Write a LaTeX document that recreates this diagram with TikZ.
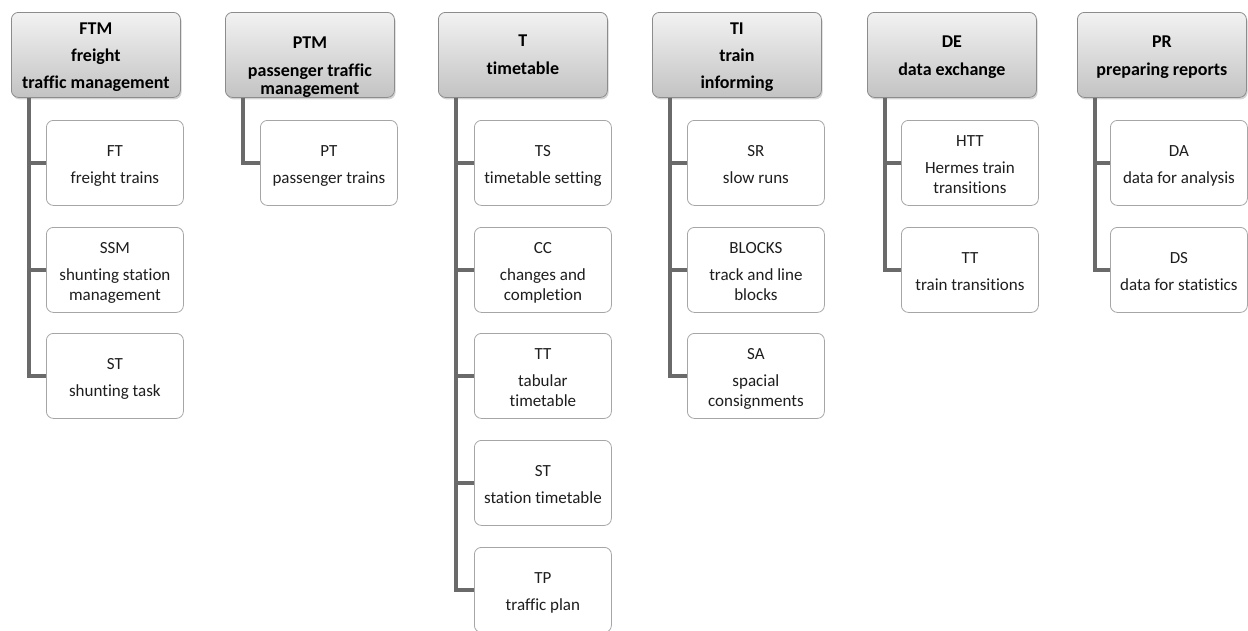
\documentclass[tikz,border=0pt]{standalone}
\usepackage{fontspec}
\setmainfont{Carlito}[Ligatures=NoCommon]
\usetikzlibrary{calc,shadows}
\definecolor{linegray}{HTML}{6A6A6A}
\definecolor{pborder}{HTML}{8C8C8C}
\definecolor{cborder}{HTML}{A6A6A6}
\definecolor{ptop}{HTML}{F2F2F2}
\definecolor{pbot}{HTML}{C3C3C3}
\definecolor{txt}{HTML}{1E1E1E}
% lower the text block visually by #1 while keeping its measured size
\newcommand{\dnbox}[2]{\raisebox{-#1}[\height][\depth]{\begin{tabular}{@{}c@{}}#2\end{tabular}}}
\begin{document}
\begin{tikzpicture}[x=1pt,y=-1pt,
  parent/.style={draw=pborder, line width=0.8pt, rounded corners=7pt,
    top color=ptop, bottom color=pbot, minimum width=169pt, minimum height=85pt,
    anchor=north west, align=center, inner sep=0pt, text=black,
    font=\fontsize{18}{21.5}\selectfont\bfseries,
    drop shadow={shadow xshift=1.2pt, shadow yshift=-2pt, opacity=0.35}},
  ptext/.style={align=center, inner sep=0pt, text=black,
    font=\fontsize{18}{21.5}\selectfont\bfseries},
  childbox/.style={draw=cborder, line width=0.8pt, rounded corners=7pt,
    fill=white, minimum width=137pt, minimum height=85pt,
    anchor=north west, align=center, inner sep=0pt, text=txt,
    font=\fontsize{17}{20.5}\selectfont},
  conn/.style={draw=linegray, line width=4pt}
]
\useasboundingbox (0,0) rectangle (1248,630);

% parents
\node[parent] (FTM) at (11,12) {\dnbox{2.5pt}{FTM\\[5.5pt]freight\\[5.5pt]traffic management}};
\node[parent] (PTM) at (225,12) {};
\node[ptext] (PTMt) at ($(PTM.center)+(0,12.5)$) {PTM\\[6.5pt]passenger traffic\\[-3.5pt]management};
\node[parent] (T) at (438,12) {\dnbox{1pt}{T\\[6.5pt]timetable}};
\node[parent] (TI) at (652,12) {\dnbox{2.5pt}{TI\\[5.5pt]train\\[5.5pt]informing}};
\node[parent] (DE) at (867,12) {\dnbox{2pt}{DE\\[6.5pt]data exchange}};
\node[parent] (PR) at (1077,12) {\dnbox{2pt}{PR\\[6.5pt]preparing reports}};

% FTM children
\node[childbox] (FT) at (46,120) {\dnbox{3pt}{FT\\[6pt]freight trains}};
\node[childbox] (SSM) at (46,227) {\dnbox{3pt}{SSM\\[6pt]shunting station\\management}};
\node[childbox] (STa) at (46,333) {\dnbox{3pt}{ST\\[6pt]shunting task}};
% PTM children
\node[childbox] (PT) at (260,120) {\dnbox{3pt}{PT\\[6pt]passenger trains}};
% T children
\node[childbox] (TS) at (474,120) {\dnbox{3pt}{TS\\[6pt]timetable setting}};
\node[childbox] (CC) at (474,227) {\dnbox{3pt}{CC\\[6pt]changes and\\completion}};
\node[childbox] (TTa) at (474,333) {\dnbox{3pt}{TT\\[6pt]tabular\\timetable}};
\node[childbox] (STb) at (474,440) {\dnbox{3pt}{ST\\[6pt]station timetable}};
\node[childbox] (TP) at (474,547) {\dnbox{3pt}{TP\\[6pt]traffic plan}};
% TI children
\node[childbox] (SR) at (687,120) {\dnbox{3pt}{SR\\[6pt]slow runs}};
\node[childbox] (BL) at (687,227) {\dnbox{3pt}{BLOCKS\\[6pt]track and line\\blocks}};
\node[childbox] (SA) at (687,333) {\dnbox{3pt}{SA\\[6pt]spacial\\consignments}};
% DE children
\node[childbox] (HTT) at (901,120) {\dnbox{3pt}{HTT\\[6pt]Hermes train\\transitions}};
\node[childbox] (TTb) at (901,227) {\dnbox{3pt}{TT\\[6pt]train transitions}};
% PR children
\node[childbox] (DA) at (1110,120) {\dnbox{3pt}{DA\\[6pt]data for analysis}};
\node[childbox] (DS) at (1110,227) {\dnbox{3pt}{DS\\[6pt]data for statistics}};

% connectors
\foreach \p/\c in {FTM/FT, FTM/SSM, FTM/STa, PTM/PT,
                   T/TS, T/CC, T/TTa, T/STb, T/TP,
                   TI/SR, TI/BL, TI/SA, DE/HTT, DE/TTb, PR/DA, PR/DS}{
  \draw[conn] ($(\p.south west)+(18,0)$) |- (\c.west);
}
\end{tikzpicture}
\end{document}
